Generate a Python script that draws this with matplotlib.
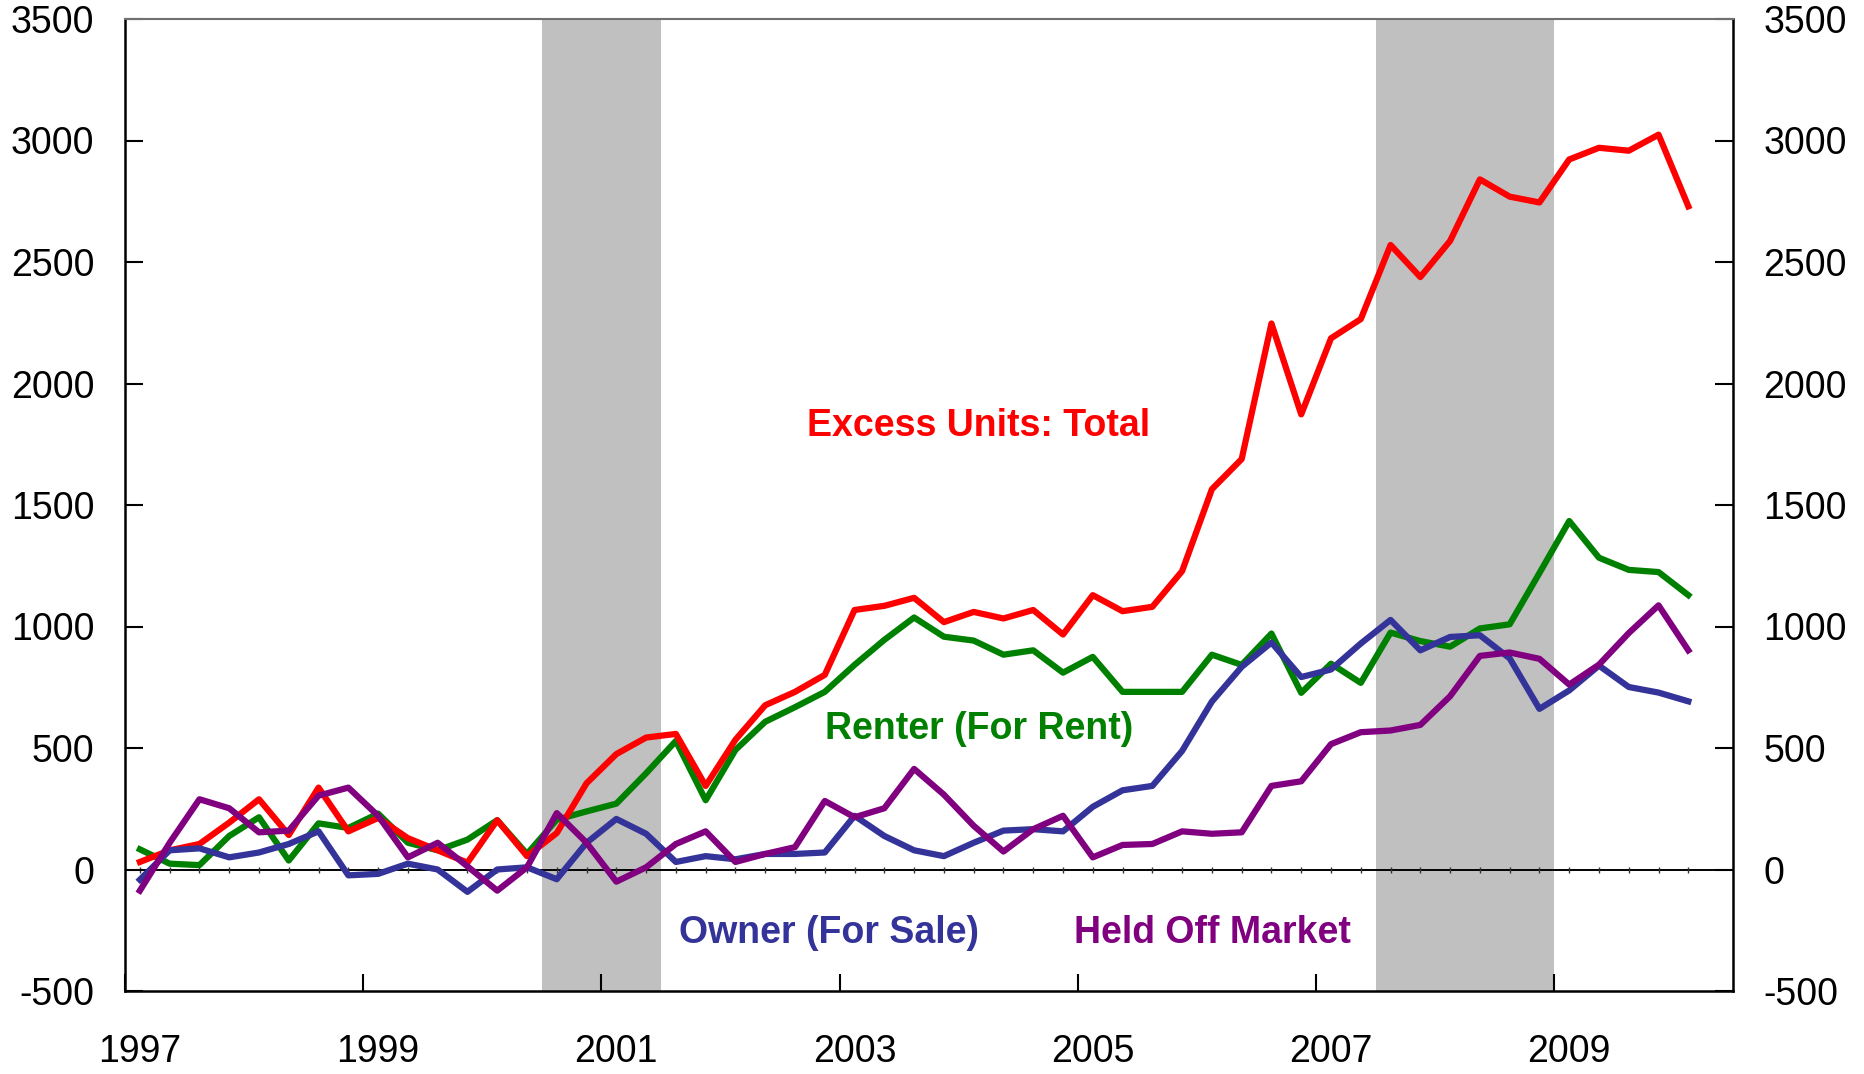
import numpy as np
import matplotlib.pyplot as plt

# quarterly data, 1997Q1 .. 2010Q1 (thousands of units)
start_year = 1997
total = [31, 79, 105, 193, 289, 142, 337, 157, 212, 129, 79, 28, 203, 55,
         150, 355, 475, 543, 558, 344, 534, 676, 731, 801, 1068, 1085, 1118,
         1018, 1060, 1033, 1068, 967, 1129, 1063, 1081, 1228, 1565, 1689,
         2247, 1873, 2186, 2265, 2570, 2438, 2587, 2840, 2769, 2745, 2922,
         2970, 2958, 3024, 2729]
renter = [83, 24, 18, 138, 215, 37, 190, 171, 230, 110, 79, 123, 203, 64,
          205, 239, 271, 396, 529, 285, 492, 608, 668, 731, 842, 945, 1037,
          958, 942, 884, 902, 810, 875, 731, 731, 731, 884, 842, 971, 727,
          847, 768, 975, 940, 917, 992, 1009, 1220, 1434, 1283, 1233, 1224,
          1129]
owner = [-42, 79, 87, 50, 70, 105, 157, -24, -18, 24, 0, -92, 0, 9, -40,
         110, 208, 147, 31, 55, 42, 64, 64, 70, 221, 138, 79, 55, 110, 160,
         166, 157, 258, 326, 344, 488, 691, 834, 934, 792, 823, 930, 1027,
         902, 957, 964, 869, 661, 737, 839, 751, 728, 692]
held = [-87, 110, 289, 252, 153, 160, 304, 337, 221, 50, 110, 13, -87, 9,
        232, 110, -50, 9, 105, 157, 31, 64, 92, 282, 215, 252, 414, 308, 180,
        74, 166, 221, 50, 101, 105, 157, 147, 153, 344, 363, 516, 565, 572,
        595, 713, 879, 893, 867, 761, 843, 973, 1087, 902]

recessions = [(2000.5, 2001.5), (2007.5, 2009.0)]
year_ticks = [1997, 1999, 2001, 2003, 2005, 2007, 2009]

x = start_year + 0.125 + 0.25 * np.arange(len(total))

plt.rcParams['font.family'] = ['Liberation Sans', 'DejaVu Sans']
plt.rcParams['axes.unicode_minus'] = False

fig = plt.figure(figsize=(18.65, 10.74), dpi=100)
ax = fig.add_axes([125 / 1865, 1 - 991 / 1074, (1733 - 125) / 1865, (991 - 19) / 1074])

for a, b in recessions:
    ax.axvspan(a, b, color='#c0c0c0', lw=0, zorder=0)

ax.axhline(0, color='black', lw=1.4, zorder=1)
ax.plot(x, np.zeros(len(x)), ls='none', marker='|', ms=5, mew=1, color='#333333', zorder=1)

ax.plot(x, renter, color='#008000', lw=4.5, zorder=3)
ax.plot(x, total, color='#ff0000', lw=4.5, zorder=3)
ax.plot(x, owner, color='#333399', lw=4.5, zorder=3)
ax.plot(x, held, color='#800080', lw=4.5, zorder=4)

ax.text(2004.17, 1825, 'Excess Units: Total', color='#ff0000', fontsize=27,
        fontweight='bold', ha='center', va='center')
ax.text(2004.17, 580, 'Renter (For Rent)', color='#008000', fontsize=27,
        fontweight='bold', ha='center', va='center')
ax.text(2002.91, -262, 'Owner (For Sale)', color='#333399', fontsize=27,
        fontweight='bold', ha='center', va='center')
ax.text(2006.13, -262, 'Held Off Market', color='#800080', fontsize=27,
        fontweight='bold', ha='center', va='center')

ax.set_xlim(1997, 2010.5)
ax.set_ylim(-500, 3500)

ax.set_yticks(np.arange(-500, 3501, 500))
ax.tick_params(axis='y', which='major', direction='in', length=13, width=1.5,
               left=True, right=True, labelleft=True, labelright=True,
               labelsize=27, pad=22)

# ticks at year boundaries, labels centred on the first quarter
ax.set_xticks(year_ticks)
ax.set_xticklabels([])
ax.set_xticks([y + 0.125 for y in year_ticks], minor=True)
ax.set_xticklabels([str(y) for y in year_ticks], minor=True)
ax.tick_params(axis='x', which='major', direction='in', length=12, width=1.5)
ax.tick_params(axis='x', which='minor', length=0, labelsize=27, pad=31)

for side in ['left', 'right', 'bottom']:
    ax.spines[side].set_linewidth(1.8)
    ax.spines[side].set_color('black')
ax.spines['top'].set_linewidth(1.5)
ax.spines['top'].set_color('#707070')

fig.savefig('out.png', dpi=100)
